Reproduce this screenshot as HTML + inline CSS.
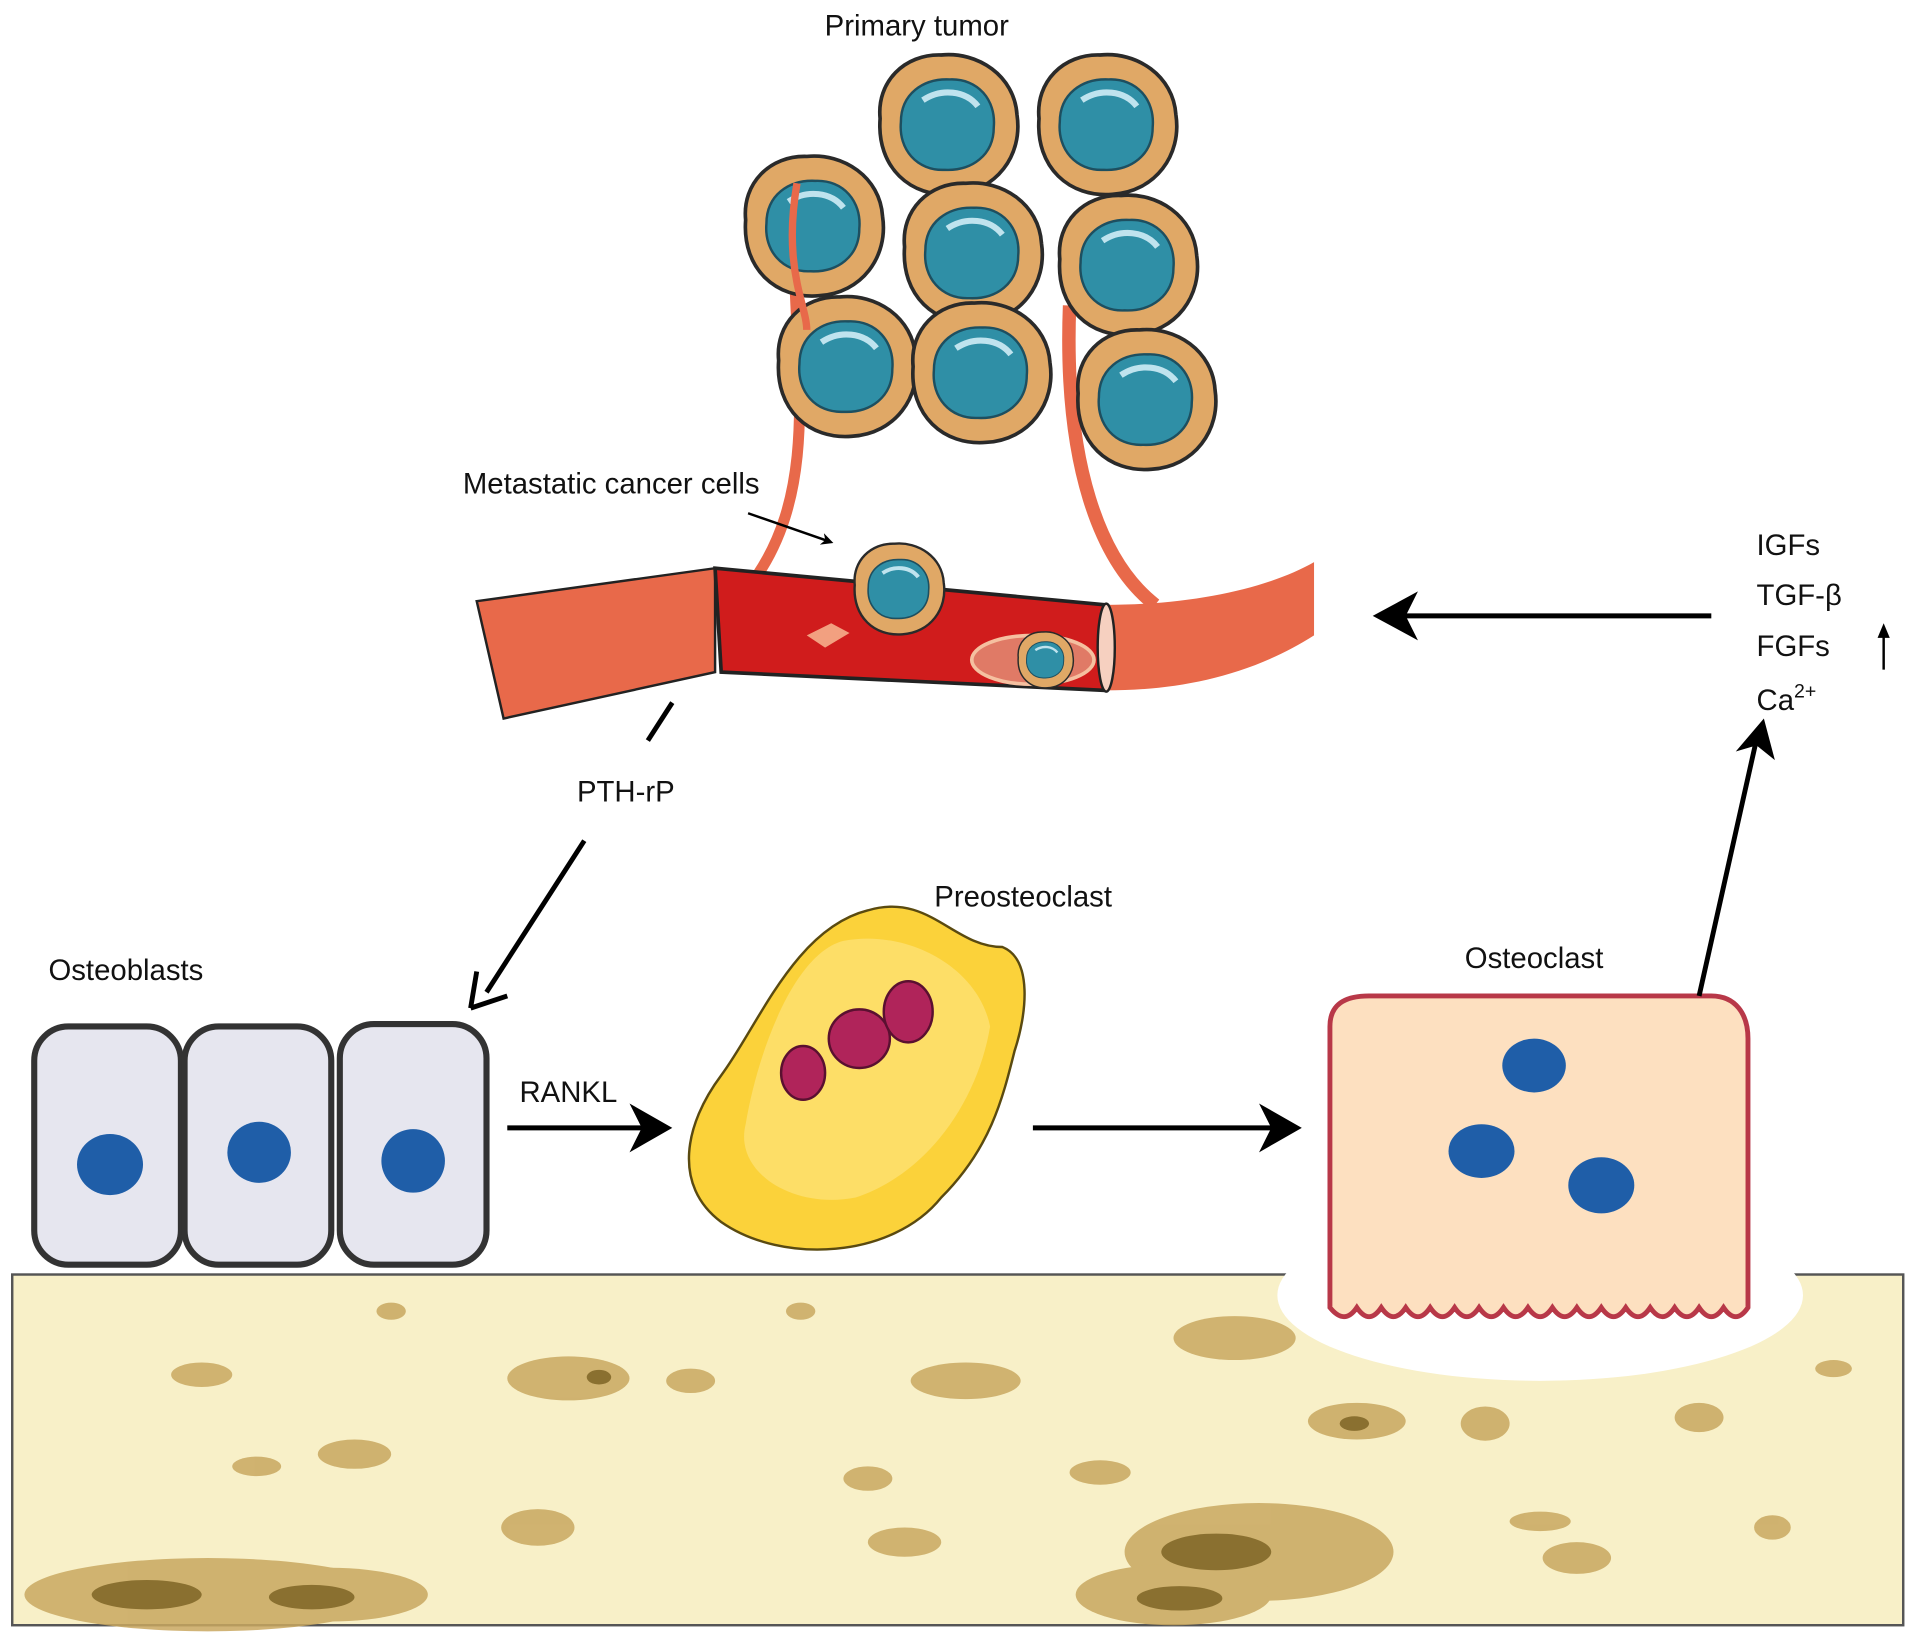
<!DOCTYPE html>
<html><head><meta charset="utf-8"><style>
html,body{margin:0;padding:0;background:#fff}
svg{display:block}
text{font-family:"Liberation Sans",Arial,sans-serif;fill:#111}
</style></head><body>
<svg width="1913" height="1635" viewBox="0 0 1565 1338" preserveAspectRatio="none" xmlns="http://www.w3.org/2000/svg">
<defs>
<marker id="ah" viewBox="0 0 10 10" refX="6" refY="5" markerWidth="5" markerHeight="5" orient="auto"><path d="M0,0 L10,5 L0,10 L3,5 z" fill="#000"/></marker>
<g id="cell">
<path d="M-55,-5 C-58,-35 -35,-58 -5,-57 C25,-60 55,-40 57,-8 C62,25 40,55 5,57 C-30,60 -58,35 -55,-5 z" fill="#e0a866" stroke="#2a2a2a" stroke-width="3"/>
<path d="M-38,-2 C-38,-25 -20,-38 2,-37 C25,-38 40,-20 38,2 C38,25 20,38 -2,37 C-25,38 -40,20 -38,-2 z" fill="#2f8fa6" stroke="#1d4f60" stroke-width="2"/>
<path d="M-20,-20 C-5,-30 15,-28 25,-15" stroke="#bfe3ee" stroke-width="5" fill="none"/>
</g>
</defs>
<text x="750" y="29" font-size="24" text-anchor="middle">Primary tumor</text>
<!-- vessels from tumor -->
<path d="M652,150 C640,260 680,380 620,470" stroke="#e8694a" stroke-width="9" fill="none"/>
<path d="M875,250 C870,380 900,460 945,495" stroke="#e8694a" stroke-width="11" fill="none"/>
<use href="#cell" x="775" y="102"/>
<use href="#cell" x="905" y="102"/>
<use href="#cell" x="665" y="185"/>
<use href="#cell" x="795" y="207"/>
<use href="#cell" x="922" y="217"/>
<use href="#cell" x="692" y="300"/>
<use href="#cell" x="802" y="305"/>
<use href="#cell" x="937" y="327"/>
<path d="M652,150 C640,220 660,250 660,270" stroke="#e8694a" stroke-width="6" fill="none"/>
<!-- blood vessel -->
<path d="M390,492 L585,465 L585,550 L412,588 z" fill="#e8694a" stroke="#222" stroke-width="2"/>
<path d="M905,495 C980,495 1040,480 1075,460 L1075,520 C1020,555 960,565 905,565 z" fill="#e8694a"/>
<path d="M585,465 L905,495 L905,565 L590,550 z" fill="#d01c1c" stroke="#222" stroke-width="3"/>
<ellipse cx="905" cy="530" rx="7" ry="36" fill="#f6d0c0" stroke="#222" stroke-width="2"/>
<path d="M660,520 l20,-10 l15,8 l-20,12 z" fill="#f2a080"/>
<ellipse cx="845" cy="540" rx="50" ry="20" fill="#e07a66" stroke="#f5c0a0" stroke-width="3"/>
<g transform="translate(735,482) scale(0.65)"><use href="#cell"/></g>
<g transform="translate(855,540) scale(0.4)"><use href="#cell"/></g>
<text x="500" y="404" font-size="24" text-anchor="middle">Metastatic cancer cells</text>
<line x1="612" y1="420" x2="678" y2="443" stroke="#000" stroke-width="2" marker-end="url(#ah)"/>
<line x1="550" y1="575" x2="530" y2="606" stroke="#000" stroke-width="4"/>
<text x="512" y="656" font-size="24" text-anchor="middle">PTH-rP</text>
<line x1="478" y1="688" x2="398" y2="812" stroke="#000" stroke-width="4"/>
<path d="M385,825 L390,795 M385,825 L415,815" stroke="#000" stroke-width="4" fill="none"/>
<!-- osteoblasts -->
<text x="103" y="802" font-size="24" text-anchor="middle">Osteoblasts</text>
<rect x="28" y="840" width="120" height="195" rx="28" fill="#e6e6ef" stroke="#333" stroke-width="5"/>
<rect x="151" y="840" width="120" height="195" rx="28" fill="#e6e6ef" stroke="#333" stroke-width="5"/>
<rect x="278" y="838" width="120" height="197" rx="28" fill="#e6e6ef" stroke="#333" stroke-width="5"/>
<ellipse cx="90" cy="953" rx="27" ry="25" fill="#1f5ea8"/>
<ellipse cx="212" cy="943" rx="26" ry="25" fill="#1f5ea8"/>
<ellipse cx="338" cy="950" rx="26" ry="26" fill="#1f5ea8"/>
<text x="465" y="902" font-size="24" text-anchor="middle">RANKL</text>
<line x1="415" y1="923" x2="535" y2="923" stroke="#000" stroke-width="4"/>
<path d="M515,903 L550,923 L515,943 L525,923 z" fill="#000"/>
<!-- preosteoclast -->
<text x="837" y="742" font-size="24" text-anchor="middle">Preosteoclast</text>
<path d="M710,745 C760,730 780,775 820,775 C845,785 840,830 830,860 C820,900 810,940 770,980 C730,1030 640,1035 590,1000 C550,970 560,920 590,880 C620,840 650,760 710,745 z" fill="#fbd23a" stroke="#5a4a10" stroke-width="2"/>
<path d="M690,770 C740,760 800,790 810,840 C800,900 760,960 700,980 C650,990 600,960 610,920 C620,860 650,780 690,770z" fill="#fde27a" opacity="0.7"/>
<ellipse cx="657" cy="878" rx="18" ry="22" fill="#b0245a" stroke="#5a1030" stroke-width="2"/>
<ellipse cx="703" cy="850" rx="25" ry="24" fill="#b0245a" stroke="#5a1030" stroke-width="2"/>
<ellipse cx="743" cy="828" rx="20" ry="25" fill="#b0245a" stroke="#5a1030" stroke-width="2"/>
<line x1="845" y1="923" x2="1050" y2="923" stroke="#000" stroke-width="4"/>
<path d="M1030,903 L1065,923 L1030,943 L1040,923 z" fill="#000"/>
<!-- bone -->
<rect x="10" y="1043" width="1547" height="287" fill="#f8f0c8" stroke="#555" stroke-width="2"/>
<g fill="#c9a860" opacity="0.85">
<ellipse cx="170" cy="1305" rx="150" ry="30"/><ellipse cx="270" cy="1305" rx="80" ry="22"/>
<ellipse cx="1030" cy="1270" rx="110" ry="40"/><ellipse cx="960" cy="1305" rx="80" ry="25"/>
<ellipse cx="465" cy="1128" rx="50" ry="18"/><ellipse cx="790" cy="1130" rx="45" ry="15"/>
<ellipse cx="1110" cy="1163" rx="40" ry="15"/><ellipse cx="1010" cy="1095" rx="50" ry="18"/>
<ellipse cx="440" cy="1250" rx="30" ry="15"/><ellipse cx="1290" cy="1275" rx="28" ry="13"/>
<ellipse cx="1215" cy="1165" rx="20" ry="14"/><ellipse cx="290" cy="1190" rx="30" ry="12"/>
<ellipse cx="165" cy="1125" rx="25" ry="10"/><ellipse cx="565" cy="1130" rx="20" ry="10"/>
<ellipse cx="710" cy="1210" rx="20" ry="10"/><ellipse cx="900" cy="1205" rx="25" ry="10"/>
<ellipse cx="740" cy="1262" rx="30" ry="12"/><ellipse cx="1390" cy="1160" rx="20" ry="12"/>
<ellipse cx="1450" cy="1250" rx="15" ry="10"/><ellipse cx="1260" cy="1245" rx="25" ry="8"/>
<ellipse cx="210" cy="1200" rx="20" ry="8"/><ellipse cx="320" cy="1073" rx="12" ry="7"/>
<ellipse cx="655" cy="1073" rx="12" ry="7"/><ellipse cx="1500" cy="1120" rx="15" ry="7"/>
</g>
<g fill="#8a7030">
<ellipse cx="120" cy="1305" rx="45" ry="12"/><ellipse cx="255" cy="1307" rx="35" ry="10"/>
<ellipse cx="995" cy="1270" rx="45" ry="15"/><ellipse cx="965" cy="1308" rx="35" ry="10"/>
<ellipse cx="1108" cy="1165" rx="12" ry="6"/><ellipse cx="490" cy="1127" rx="10" ry="6"/>
</g>
<ellipse cx="1260" cy="1060" rx="215" ry="70" fill="#fff"/>
<!-- osteoclast -->
<text x="1255" y="792" font-size="24" text-anchor="middle">Osteoclast</text>
<path d="M1088,840 C1088,822 1100,815 1120,815 L1400,815 C1420,815 1430,830 1430,850 L1430,1070 q-10,15 -20,0 q-10,15 -20,0 q-10,15 -20,0 q-10,15 -20,0 q-10,15 -20,0 q-10,15 -20,0 q-10,15 -20,0 q-10,15 -20,0 q-10,15 -20,0 q-10,15 -20,0 q-10,15 -20,0 q-10,15 -20,0 q-10,15 -20,0 q-10,15 -20,0 q-10,15 -20,0 q-10,15 -20,0 q-10,15 -22,0 z" fill="#fde0c0" stroke="#b83848" stroke-width="4"/>
<ellipse cx="1255" cy="872" rx="26" ry="22" fill="#1f5ea8"/>
<ellipse cx="1212" cy="942" rx="27" ry="22" fill="#1f5ea8"/>
<ellipse cx="1310" cy="970" rx="27" ry="23" fill="#1f5ea8"/>
<line x1="1390" y1="815" x2="1437" y2="605" stroke="#000" stroke-width="4"/>
<path d="M1420,615 L1443,588 L1452,622 L1437,610 z" fill="#000"/>
<line x1="1400" y1="504" x2="1145" y2="504" stroke="#000" stroke-width="4"/>
<path d="M1160,484 L1123,504 L1160,524 L1150,504 z" fill="#000"/>
<text x="1437" y="454" font-size="24">IGFs</text>
<text x="1437" y="495" font-size="24">TGF-β</text>
<text x="1437" y="537" font-size="24">FGFs</text>
<text x="1437" y="581" font-size="24">Ca<tspan font-size="16" dy="-10">2+</tspan></text>
<line x1="1541" y1="548" x2="1541" y2="520" stroke="#000" stroke-width="2"/>
<path d="M1536,522 L1541,510 L1546,522 z" fill="#000"/>
</svg>
</body></html>
